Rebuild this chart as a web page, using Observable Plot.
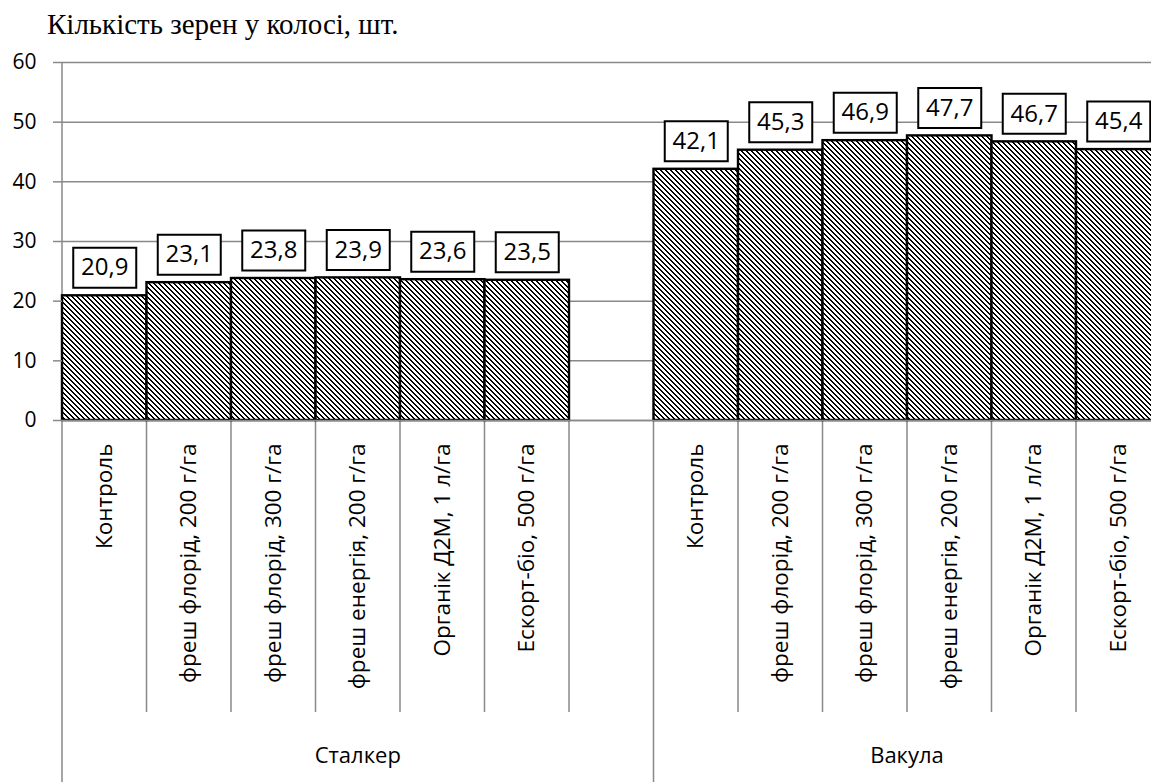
<!DOCTYPE html>
<html>
<head>
<meta charset="utf-8">
<script src="https://cdn.jsdelivr.net/npm/d3@7"></script>
<script src="https://cdn.jsdelivr.net/npm/@observablehq/plot@0.6"></script>
<style>
  html, body { margin: 0; padding: 0; background: white; overflow: hidden; }
  #wrap { position: relative; width: 1151px; height: 782px; }
  #title { position: absolute; left: 47px; top: 10px; font-family: "Liberation Serif", "Times New Roman", serif; font-size: 29px; line-height: 1; color: #000; white-space: nowrap; }
  #chart { position: absolute; left: 0; top: 0; }
</style>
</head>
<body>
<div id="wrap">
  <div id="chart"></div>
  <div id="title">Кількість зерен у колосі, шт.</div>
</div>
<script>
// ---- data ----
const groups = ["Сталкер", "Вакула"];
const treatments = [
  "Контроль",
  "фреш флорід, 200 г/га",
  "фреш флорід, 300 г/га",
  "фреш енергія, 200 г/га",
  "Органік Д2М, 1 л/га",
  "Ескорт-біо, 500 г/га"
];
const stalkerValues = [20.9, 23.1, 23.8, 23.9, 23.6, 23.5];
const vakulaValues = [42.1, 45.3, 46.9, 47.7, 46.7, 45.4];
const yTicks = [0, 10, 20, 30, 40, 50, 60];
const seriesValues = [stalkerValues, vakulaValues];

// ---- table ----
const rows = [];
const domain = [];
const groupSpans = [];
groups.forEach((g, gi) => {
  const keys = [];
  treatments.forEach((t, ti) => {
    const key = g + "|" + t;
    rows.push({key, group: g, treatment: t, value: seriesValues[gi][ti]});
    keys.push(key);
  });
  if (gi < groups.length - 1) keys.push(g + "|"); // empty slot between groups
  domain.push(...keys);
  groupSpans.push({group: g, keys});
});

const fmt = v => v.toFixed(1).replace(".", ",");
const GRAY = "#898989";
const W = 1151, H = 782;

// rectangular label box as a custom symbol
const boxSymbol = {
  draw(ctx) { ctx.moveTo(-31.5, -20); ctx.lineTo(31.5, -20); ctx.lineTo(31.5, 20); ctx.lineTo(-31.5, 20); ctx.closePath(); }
};

// two-level category axis drawn with the plot's x scale
function categoryAxis(index, scales, values, dimensions) {
  const x = scales.x;
  const bw = x(domain[1]) - x(domain[0]);
  const y0 = dimensions.height - dimensions.marginBottom;
  const yMid = y0 + 292;
  const yEnd = dimensions.height;
  const g = d3.create("svg:g");
  const starts = new Set(groupSpans.map(s => s.keys[0]));
  domain.forEach(k => {
    const xx = x(k);
    const isStart = starts.has(k);
    g.append("line")
      .attr("x1", xx).attr("x2", xx)
      .attr("y1", y0)
      .attr("y2", isStart ? yEnd : yMid)
      .attr("stroke", GRAY).attr("stroke-width", 1.5);
  });
  const xLast = x(domain[domain.length - 1]) + bw;
  g.append("line").attr("x1", xLast).attr("x2", xLast).attr("y1", y0).attr("y2", yEnd)
    .attr("stroke", GRAY).attr("stroke-width", 1.5);
  groupSpans.forEach(s => {
    const a = x(s.keys[0]);
    const b = x(s.keys[s.keys.length - 1]) + bw;
    g.append("text")
      .attr("x", (a + b) / 2).attr("y", yMid + 51)
      .attr("text-anchor", "middle")
      .attr("font-family", "Open Sans")
      .attr("font-size", 22)
      .attr("fill", "black")
      .text(s.group);
  });
  return g.node();
}

function yAxisLine(index, scales, values, dimensions) {
  const x0 = scales.x(domain[0]);
  return d3.create("svg:line")
    .attr("x1", x0).attr("x2", x0)
    .attr("y1", dimensions.marginTop).attr("y2", dimensions.height - dimensions.marginBottom)
    .attr("stroke", GRAY).attr("stroke-width", 1.5).node();
}

const plot = Plot.plot({
  width: W,
  height: H,
  marginLeft: 62,
  marginRight: -9.5,
  marginTop: 62,
  marginBottom: 362,
  style: {fontFamily: "Open Sans", background: "white", overflow: "hidden", maxWidth: "none"},
  x: {type: "band", domain, padding: 0, round: false, axis: null},
  y: {domain: [0, 60], axis: null},
  marks: [
    Plot.gridY(yTicks, {stroke: GRAY, strokeOpacity: 1, strokeWidth: 1.5}),
    yAxisLine,
    categoryAxis,
    Plot.barY(rows, {x: "key", y: "value", fill: "url(#hatch)", stroke: "black", strokeWidth: 2.4, inset: 0}),
    Plot.ruleY([0], {stroke: GRAY, strokeWidth: 1.5}),
    Plot.axisY({ticks: yTicks, label: null, tickSize: 9, tickPadding: 17, fontSize: 21, stroke: GRAY, strokeWidth: 1.5, strokeOpacity: 1, fill: "black", tickFormat: d => String(d)}),
    Plot.dot(rows, {x: "key", y: "value", symbol: boxSymbol, r: 5, fill: "white", stroke: "black", strokeWidth: 2, dy: -28}),
    Plot.text(rows, {x: "key", y: "value", text: d => fmt(d.value), dy: -28, fontSize: 24, fill: "black"}),
    Plot.text(rows, {x: "key", frameAnchor: "bottom", text: "treatment", rotate: -90, textAnchor: "end", lineAnchor: "middle", dy: 23, fontSize: 22.5, fill: "black"})
  ]
});

// hatch pattern: crisp 5px downward diagonal staircase
const defs = d3.select(plot).insert("defs", ":first-child");
const pat = defs.append("pattern")
  .attr("id", "hatch").attr("patternUnits", "userSpaceOnUse")
  .attr("width", 5).attr("height", 5);
pat.append("rect").attr("width", 5).attr("height", 5).attr("fill", "white");
let d = "";
for (let r = 0; r < 5; r++) {
  for (const c of [r, (r + 1) % 5]) d += `M${c},${r}h1v1h-1z`;
}
pat.append("path").attr("d", d).attr("fill", "black").attr("shape-rendering", "crispEdges");

document.getElementById("chart").appendChild(plot);
</script>
</body>
</html>
